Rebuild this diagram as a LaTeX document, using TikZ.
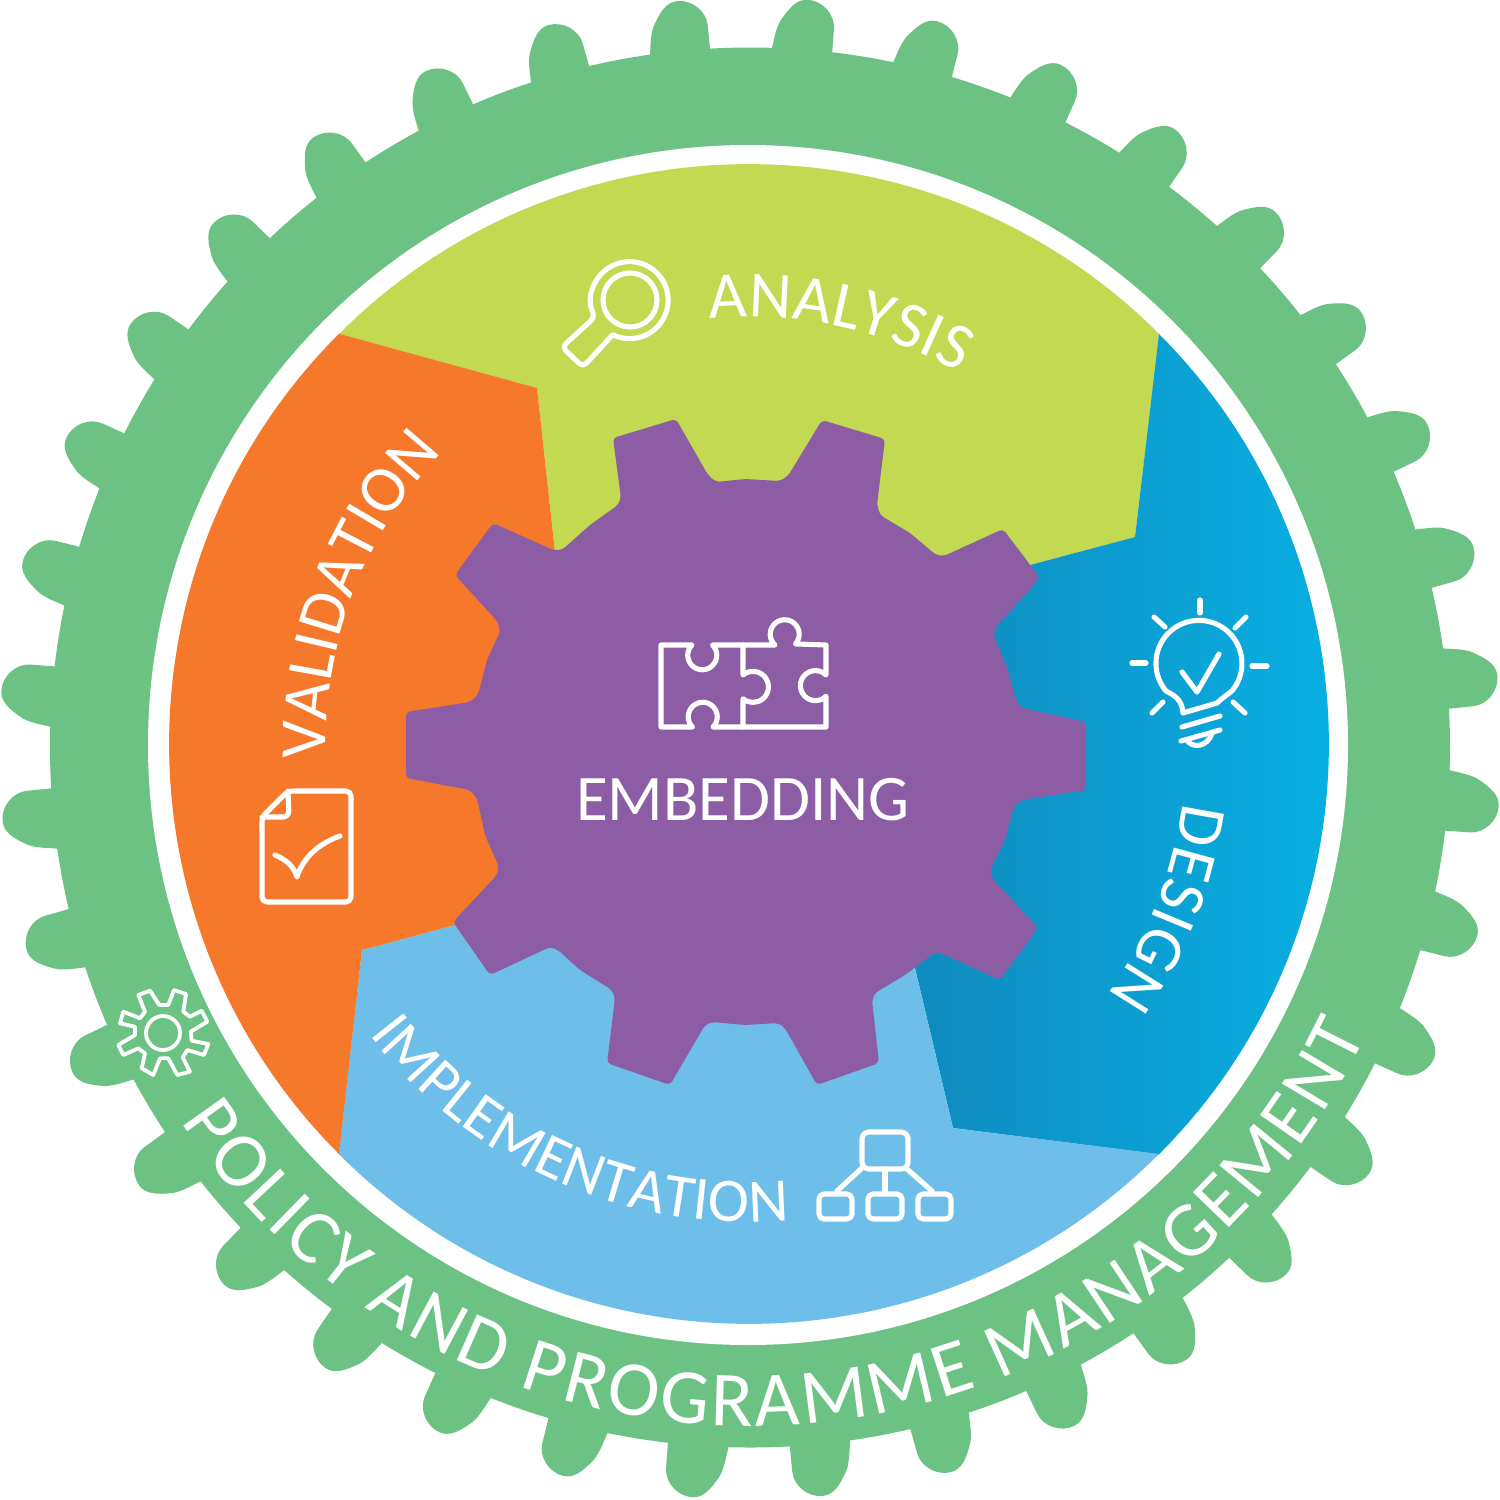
\documentclass[tikz,border=0pt]{standalone}
\usepackage{fontspec}
\setmainfont{Carlito}
\usetikzlibrary{decorations.text}
\definecolor{ringgreen}{HTML}{6CC283}
\definecolor{lime}{HTML}{C3D951}
\definecolor{orangeseg}{HTML}{F6792B}
\definecolor{skyseg}{HTML}{6EBEEA}
\definecolor{purplegear}{HTML}{8C5CA5}
\definecolor{blueL}{HTML}{1089BC}
\definecolor{blueR}{HTML}{07B4E7}
\tikzset{
  icon/.style={draw=white,line width=5.1pt,line cap=round,line join=round},
  thinicon/.style={draw=white,line width=3.8pt,line cap=round,line join=round},
  arctext/.style={decorate},
}
\newcommand{\lbl}[1]{\color{white}\fontsize{#1}{#1}\selectfont}
\begin{document}
\begin{tikzpicture}[x=1pt,y=-1pt]
\useasboundingbox (0,0) rectangle (1500,1500);
% outer ring with teeth
\fill[ringgreen] (750,747.5) circle[radius=700];
\foreach \b in {4.2,14.2,...,354.2}{
  \begin{scope}[shift={(750,748.5)},rotate=90-\b]
    \fill[ringgreen] (690,-30) -- (697,-30) .. controls (708,-28) and (720,-27) .. (728,-23)
      .. controls (742,-15) and (751,-8) .. (751,3)
      .. controls (751,18) and (738,31) .. (724,31)
      -- (697,31) -- (690,31) -- cycle;
  \end{scope}
}
\fill[white] (748,745) circle[radius=600];
% segments
\fill[lime] (339,334) arc[start angle=225,end angle=315,radius=580] -- (1135,537) -- (1030,565) -- (800,600) -- (555,552) -- (537,388) -- cycle;
\shade[left color=blueL,right color=blueR] (1159,334) arc[start angle=-45,end angle=45,radius=580] -- (953,1128) -- (915,968) -- (900,700) -- (1030,565) -- (1135,537) -- cycle;
\fill[skyseg] (1159,1154) arc[start angle=45,end angle=135,radius=580] -- (362,950) -- (455,925) -- (700,800) -- (915,968) -- (953,1128) -- cycle;
\fill[orangeseg] (339,1154) arc[start angle=135,end angle=225,radius=580] -- (537,388) -- (555,552) -- (700,800) -- (455,925) -- (362,950) -- cycle;
% central gear
\fill[purplegear,rounded corners=4pt] (613,438) -- (676,419) -- (708,475) -- (716,482) -- (745,479) -- (780,481) -- (788,476) -- (822,420) -- (885,439) -- (877,505) -- (880,515) -- (910,533) -- (936,555) -- (944,556) -- (1003,529) -- (1040,578) -- (995,628) -- (994,636) -- (1008,670) -- (1016,700) -- (1022,708) -- (1086,722) -- (1086,790) -- (1022,800) -- (1014,806) -- (1005,840) -- (990,870) -- (992,878) -- (1038,928) -- (1000,980) -- (945,955) -- (935,952) -- (905,975) -- (875,993) -- (872,1000) -- (879,1063) -- (817,1085) -- (785,1028) -- (778,1023) -- (745,1025) -- (712,1022) -- (705,1025) -- (670,1085) -- (607,1063) -- (615,998) -- (612,990) -- (580,970) -- (558,950) -- (550,947) -- (490,975) -- (453,922) -- (497,875) -- (499,867) -- (485,835) -- (477,798) -- (470,790) -- (406,778) -- (406,712) -- (470,702) -- (478,695) -- (487,660) -- (500,632) -- (498,622) -- (455,575) -- (493,523) -- (553,550) -- (562,550) -- (590,525) -- (618,505) -- (621,498) -- cycle;
% labels
\node[text=white,font=\fontsize{65}{65}\selectfont] (embedding) at (743,800) {EMBEDDING};
\path[arctext,decoration={text along path,text align={fit to path},text={|\lbl{66}|ANALYSIS}}] (749,744) ++(-95.3:427) arc[start angle=-95.3,end angle=-60.5,radius=427];
\path[arctext,decoration={text along path,text align={fit to path},text={|\lbl{66}|VALIDATION}}] (749,744) ++(178:423) arc[start angle=178,end angle=223.5,radius=423];
\path[arctext,decoration={text along path,text align={fit to path},text={|\lbl{66}|DESIGN}}] (749,744) ++(7.6:438) arc[start angle=7.6,end angle=35,radius=438];
\path[arctext,decoration={text along path,text align={fit to path},text={|\lbl{62}|IMPLEMENTATION}}] (749,744) ++(142.6:478) arc[start angle=142.6,end angle=85.2,radius=478];
\path[arctext,decoration={text along path,text align={fit to path},text={|\lbl{78}|POLICY AND PROGRAMME MANAGEMENT}}] (749,744) ++(146.4:682) arc[start angle=146.4,end angle=25.2,radius=682];
% magnifier icon
\draw[icon] (630,300) circle[radius=27];
\draw[icon] (595,317) arc[start angle=154,end angle=476,radius=38.5]
  [rounded corners=5pt] -- (583,367) -- (562,347) -- cycle;
% bulb icon
\draw[icon] (1183,713) .. controls (1182,702) and (1178,697) .. (1166,691)
  arc[start angle=140,end angle=400,radius=43]
  .. controls (1224,697) and (1220,700) .. (1217,703) -- cycle;
\draw[icon] (1182,672) -- (1197,692) -- (1219,654);
\draw[icon] (1182,727) -- (1220,716);
\draw[icon] (1181,741) -- (1220,730);
\draw[icon] (1187,740) .. controls (1192,749) and (1208,747) .. (1212,733);
\foreach \xa/\ya/\xb/\yb in {1200/600/1200/613,1154/617/1165/627,1246/617/1235/628,1132/663/1146/663,1252/666/1267/666,1152/713/1163/702,1233/702/1245/713}
  \draw[icon] (\xa,\ya) -- (\xb,\yb);
% puzzle icon
\draw[icon] (661,645) -- (692,645) arc[start angle=225,end angle=-45,radius=14.5]
  -- (775,645) arc[start angle=132,end angle=402,radius=14.5]
  -- (826,645) -- (826,675) arc[start angle=315,end angle=45,radius=15]
  -- (826,727) -- (713,727) arc[start angle=45,end angle=-225,radius=14.5]
  -- (661,727) -- cycle;
\draw[icon] (743,645) -- (743,675) arc[start angle=-130,end angle=130,radius=15.5] -- (743,727);
% document icon
\draw[icon,rounded corners=5pt] (288,791) -- (351,791) -- (351,902) -- (262,902) -- (262,817) -- cycle;
\draw[icon,rounded corners=6pt] (288,791) -- (289,817) -- (262,817);
\draw[icon] (275,855) .. controls (285,859) and (294,866) .. (297,877) .. controls (303,857) and (320,843) .. (340,836);
% hierarchy icon
\draw[icon,rounded corners=7pt] (862,1132) rectangle (908,1169);
\draw[icon,rounded corners=5pt] (819,1194) rectangle (852,1219);
\draw[icon,rounded corners=5pt] (868,1194) rectangle (902,1219);
\draw[icon,rounded corners=5pt] (918,1194) rectangle (951,1219);
\draw[icon] (862,1168) -- (837,1191);
\draw[icon] (885,1169) -- (885,1191);
\draw[icon] (907,1169) -- (932,1191);
% small gear icon
\draw[thinicon] (138.3,995) -- (150,990.7) -- (159.3,1005) -- (168.3,1005) -- (174,990) -- (186,994) -- (183.3,1011.7) -- (190,1016.7) -- (201.7,1010.7) -- (207.3,1021.7) -- (190.7,1031.7) -- (191.7,1040.7) -- (208.3,1044) -- (204,1055) -- (187.3,1050) -- (182.7,1057.3) -- (190,1071.7) -- (177.3,1075) -- (168.3,1058.3) -- (160,1058.3) -- (153.3,1075) -- (141.7,1068.3) -- (145,1053.3) -- (138.3,1048.3) -- (123.3,1055) -- (118.3,1045) -- (135,1035) -- (135,1026.7) -- (120,1023.3) -- (123.3,1011.7) -- (140,1018.3) -- (145,1011.7) -- cycle;
\draw[thinicon] (163,1033) circle[radius=17];
\end{tikzpicture}
\end{document}
